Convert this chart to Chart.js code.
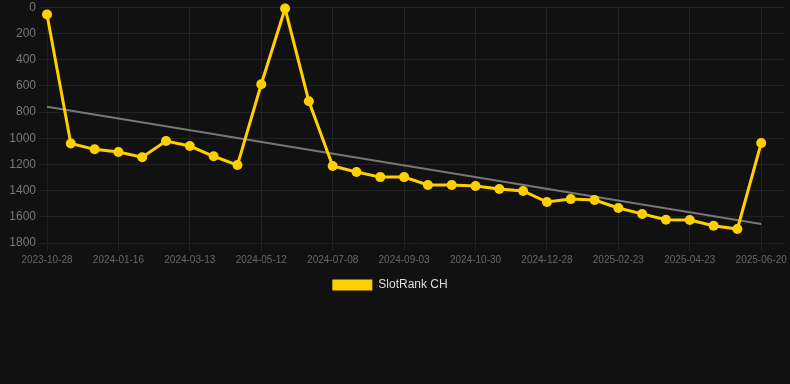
<!DOCTYPE html>
<html>
<head>
<meta charset="utf-8">
<script src="https://cdn.jsdelivr.net/npm/chart.js@4.4.1/dist/chart.umd.min.js"></script>
<style>
    html, body { margin: 0; padding: 0; background: #111111; }
    #wrap { width: 790px; height: 301px; position: relative; }
</style>
</head>
<body>
<div id="wrap"><canvas id="rankChart"></canvas></div>
<script>
// даты (по оси X), последняя без значения
const dates = ["2023-10-28", "2023-11-24", "2023-12-20", "2024-01-16", "2024-02-04", "2024-02-23",
    "2024-03-13", "2024-04-02", "2024-04-22", "2024-05-12", "2024-05-31", "2024-06-19",
    "2024-07-08", "2024-07-27", "2024-08-15", "2024-09-03", "2024-09-22", "2024-10-11",
    "2024-10-30", "2024-11-19", "2024-12-09", "2024-12-28", "2025-01-16", "2025-02-04",
    "2025-02-23", "2025-03-15", "2025-04-04", "2025-04-23", "2025-05-12", "2025-06-01",
    "2025-06-20", "2025-07-09"];
// позиция в рейтинге
const rankValues = [55, 1040, 1085, 1105, 1145, 1022, 1060, 1138, 1205, 588, 10, 718,
    1212, 1258, 1297, 1297, 1357, 1357, 1365, 1388, 1403, 1487, 1465, 1472,
    1533, 1578, 1623, 1625, 1668, 1693, 1037];
// линия тренда: начало и конец
const trendEnds = [760, 1655];

const trendValues = rankValues.map((v, i) => {
    if (i === 0) return trendEnds[0];
    if (i === rankValues.length - 1) return trendEnds[1];
    return null;
});

Chart.defaults.font.family = "'Liberation Sans', Arial, sans-serif";

// сдвиг легенды чуть влево
const legendShift = {
    id: "legendShift",
    afterLayout(chart) {
        chart.legend.left -= 4;
        chart.legend.right -= 4;
    }
};

new Chart("rankChart", {
    type: "line",
    data: {
        labels: dates,
        datasets: [{
            label: "SlotRank CH",
            data: rankValues,
            borderColor: "#ffd000",
            backgroundColor: "#ffd000",
            borderWidth: 3,
            pointRadius: 5,
            pointBackgroundColor: "#ffd000",
            pointBorderWidth: 0,
            tension: 0,
            clip: false
        }, {
            label: "trend",
            data: trendValues,
            borderColor: "#777777",
            borderWidth: 2,
            pointRadius: 0,
            spanGaps: true,
            fill: false
        }]
    },
    plugins: [legendShift],
    options: {
        responsive: true,
        maintainAspectRatio: false,
        animation: false,
        layout: { padding: { right: 2 } },
        scales: {
            x: {
                grid: { color: "#222222" },
                ticks: {
                    color: "#666666",
                    font: { size: 10 },
                    autoSkip: false,
                    maxRotation: 0,
                    callback: function (val, index) {
                        return index % 3 === 0 ? this.getLabelForValue(val) : null;
                    }
                }
            },
            y: {
                reverse: true,
                min: 0,
                max: 1800,
                grid: { color: "#222222" },
                afterFit: scale => { scale.width = 47; },
                ticks: {
                    stepSize: 200,
                    color: "#777777",
                    font: { size: 12, lineHeight: 0.7 },
                    callback: val => String(val)
                }
            }
        },
        plugins: {
            legend: {
                position: "bottom",
                labels: {
                    color: "#dddddd",
                    font: { size: 12 },
                    boxWidth: 40,
                    boxHeight: 11,
                    generateLabels: chart => {
                        const items = Chart.defaults.plugins.legend.labels.generateLabels(chart);
                        return items.filter(it => it.datasetIndex === 0).map(it => {
                            it.lineWidth = 0;
                            return it;
                        });
                    }
                }
            },
            tooltip: { enabled: false }
        }
    }
});
</script>
</body>
</html>
